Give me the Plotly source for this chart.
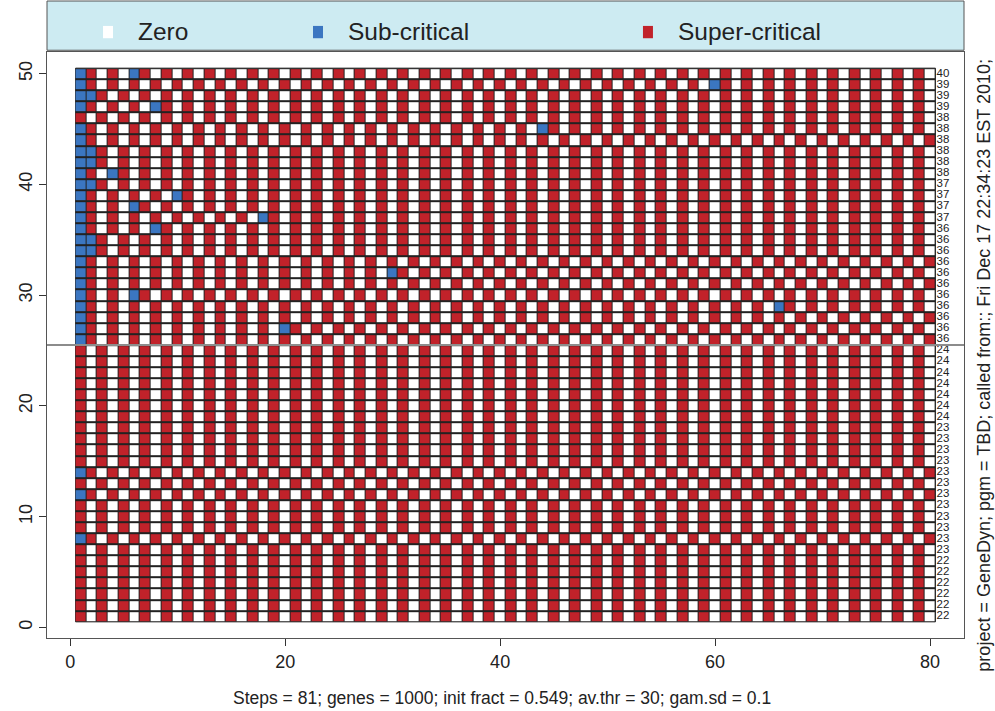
import plotly.graph_objects as go

# ---------------- data ----------------
# one string per gene row, top row (y = 50) first; one character per step 1..80
# W = zero, B = sub-critical, R = super-critical (spaces only group by 10 steps)
STATE_ROWS = [
    "BRWRWBRWRW RWRWRWRWRW RWRWRWRWRW RWRWRWRWRW RWRWRWRWRW RWRWRWRWRW RWRWRWRWRW RWRWRWRWRW",  # 50
    "BRWRWRWRWR WRWRWRWRWR WRWRWRWRWR WRWRWRWRWR WRWRWRWRWR WRWRWRWRWB RWRWRWRWRW RWRWRWRWRW",  # 49
    "BBRWRWRWRW RWRWRWRWRW RWRWRWRWRW RWRWRWRWRW RWRWRWRWRW RWRWRWRWRW RWRWRWRWRW RWRWRWRWRW",  # 48
    "BRWRWRWBRW RWRWRWRWRW RWRWRWRWRW RWRWRWRWRW RWRWRWRWRW RWRWRWRWRW RWRWRWRWRW RWRWRWRWRW",  # 47
    "RWRWRWRWRW RWRWRWRWRW RWRWRWRWRW RWRWRWRWRW RWRWRWRWRW RWRWRWRWRW RWRWRWRWRW RWRWRWRWRW",  # 46
    "BRWRWRWRWR WRWRWRWRWR WRWRWRWRWR WRWRWRWRWR WRWBRWRWRW RWRWRWRWRW RWRWRWRWRW RWRWRWRWRW",  # 45
    "BRWRWRWRWR WRWRWRWRWR WRWRWRWRWR WRWRWRWRWR WRWRWRWRWR WRWRWRWRWR WRWRWRWRWR WRWRWRWRWR",  # 44
    "BBRWRWRWRW RWRWRWRWRW RWRWRWRWRW RWRWRWRWRW RWRWRWRWRW RWRWRWRWRW RWRWRWRWRW RWRWRWRWRW",  # 43
    "BBRWRWRWRW RWRWRWRWRW RWRWRWRWRW RWRWRWRWRW RWRWRWRWRW RWRWRWRWRW RWRWRWRWRW RWRWRWRWRW",  # 42
    "BRWBRWRWRW RWRWRWRWRW RWRWRWRWRW RWRWRWRWRW RWRWRWRWRW RWRWRWRWRW RWRWRWRWRW RWRWRWRWRW",  # 41
    "BBRWRWRWRW RWRWRWRWRW RWRWRWRWRW RWRWRWRWRW RWRWRWRWRW RWRWRWRWRW RWRWRWRWRW RWRWRWRWRW",  # 40
    "BRWRWRWRWB RWRWRWRWRW RWRWRWRWRW RWRWRWRWRW RWRWRWRWRW RWRWRWRWRW RWRWRWRWRW RWRWRWRWRW",  # 39
    "BRWRWBRWRW RWRWRWRWRW RWRWRWRWRW RWRWRWRWRW RWRWRWRWRW RWRWRWRWRW RWRWRWRWRW RWRWRWRWRW",  # 38
    "BRWRWRWRWR WRWRWRWBRW RWRWRWRWRW RWRWRWRWRW RWRWRWRWRW RWRWRWRWRW RWRWRWRWRW RWRWRWRWRW",  # 37
    "BRWRWRWBRW RWRWRWRWRW RWRWRWRWRW RWRWRWRWRW RWRWRWRWRW RWRWRWRWRW RWRWRWRWRW RWRWRWRWRW",  # 36
    "BBRWRWRWRW RWRWRWRWRW RWRWRWRWRW RWRWRWRWRW RWRWRWRWRW RWRWRWRWRW RWRWRWRWRW RWRWRWRWRW",  # 35
    "BBRWRWRWRW RWRWRWRWRW RWRWRWRWRW RWRWRWRWRW RWRWRWRWRW RWRWRWRWRW RWRWRWRWRW RWRWRWRWRW",  # 34
    "BRWRWRWRWR WRWRWRWRWR WRWRWRWRWR WRWRWRWRWR WRWRWRWRWR WRWRWRWRWR WRWRWRWRWR WRWRWRWRWR",  # 33
    "BRWRWRWRWR WRWRWRWRWR WRWRWRWRWB RWRWRWRWRW RWRWRWRWRW RWRWRWRWRW RWRWRWRWRW RWRWRWRWRW",  # 32
    "BRWRWRWRWR WRWRWRWRWR WRWRWRWRWR WRWRWRWRWR WRWRWRWRWR WRWRWRWRWR WRWRWRWRWR WRWRWRWRWR",  # 31
    "BRWRWBRWRW RWRWRWRWRW RWRWRWRWRW RWRWRWRWRW RWRWRWRWRW RWRWRWRWRW RWRWRWRWRW RWRWRWRWRW",  # 30
    "BRWRWRWRWR WRWRWRWRWR WRWRWRWRWR WRWRWRWRWR WRWRWRWRWR WRWRWRWRWR WRWRWBRWRW RWRWRWRWRW",  # 29
    "BRWRWRWRWR WRWRWRWRWR WRWRWRWRWR WRWRWRWRWR WRWRWRWRWR WRWRWRWRWR WRWRWRWRWR WRWRWRWRWR",  # 28
    "BRWRWRWRWR WRWRWRWRWB RWRWRWRWRW RWRWRWRWRW RWRWRWRWRW RWRWRWRWRW RWRWRWRWRW RWRWRWRWRW",  # 27
    "BRWRWRWRWR WRWRWRWRWR WRWRWRWRWR WRWRWRWRWR WRWRWRWRWR WRWRWRWRWR WRWRWRWRWR WRWRWRWRWR",  # 26
    "RWRWRWRWRW RWRWRWRWRW RWRWRWRWRW RWRWRWRWRW RWRWRWRWRW RWRWRWRWRW RWRWRWRWRW RWRWRWRWRW",  # 25
    "RWRWRWRWRW RWRWRWRWRW RWRWRWRWRW RWRWRWRWRW RWRWRWRWRW RWRWRWRWRW RWRWRWRWRW RWRWRWRWRW",  # 24
    "RWRWRWRWRW RWRWRWRWRW RWRWRWRWRW RWRWRWRWRW RWRWRWRWRW RWRWRWRWRW RWRWRWRWRW RWRWRWRWRW",  # 23
    "RWRWRWRWRW RWRWRWRWRW RWRWRWRWRW RWRWRWRWRW RWRWRWRWRW RWRWRWRWRW RWRWRWRWRW RWRWRWRWRW",  # 22
    "RWRWRWRWRW RWRWRWRWRW RWRWRWRWRW RWRWRWRWRW RWRWRWRWRW RWRWRWRWRW RWRWRWRWRW RWRWRWRWRW",  # 21
    "RWRWRWRWRW RWRWRWRWRW RWRWRWRWRW RWRWRWRWRW RWRWRWRWRW RWRWRWRWRW RWRWRWRWRW RWRWRWRWRW",  # 20
    "RWRWRWRWRW RWRWRWRWRW RWRWRWRWRW RWRWRWRWRW RWRWRWRWRW RWRWRWRWRW RWRWRWRWRW RWRWRWRWRW",  # 19
    "RWRWRWRWRW RWRWRWRWRW RWRWRWRWRW RWRWRWRWRW RWRWRWRWRW RWRWRWRWRW RWRWRWRWRW RWRWRWRWRW",  # 18
    "RWRWRWRWRW RWRWRWRWRW RWRWRWRWRW RWRWRWRWRW RWRWRWRWRW RWRWRWRWRW RWRWRWRWRW RWRWRWRWRW",  # 17
    "RWRWRWRWRW RWRWRWRWRW RWRWRWRWRW RWRWRWRWRW RWRWRWRWRW RWRWRWRWRW RWRWRWRWRW RWRWRWRWRW",  # 16
    "RWRWRWRWRW RWRWRWRWRW RWRWRWRWRW RWRWRWRWRW RWRWRWRWRW RWRWRWRWRW RWRWRWRWRW RWRWRWRWRW",  # 15
    "BRWRWRWRWR WRWRWRWRWR WRWRWRWRWR WRWRWRWRWR WRWRWRWRWR WRWRWRWRWR WRWRWRWRWR WRWRWRWRWR",  # 14
    "RWRWRWRWRW RWRWRWRWRW RWRWRWRWRW RWRWRWRWRW RWRWRWRWRW RWRWRWRWRW RWRWRWRWRW RWRWRWRWRW",  # 13
    "BRWRWRWRWR WRWRWRWRWR WRWRWRWRWR WRWRWRWRWR WRWRWRWRWR WRWRWRWRWR WRWRWRWRWR WRWRWRWRWR",  # 12
    "RWRWRWRWRW RWRWRWRWRW RWRWRWRWRW RWRWRWRWRW RWRWRWRWRW RWRWRWRWRW RWRWRWRWRW RWRWRWRWRW",  # 11
    "RWRWRWRWRW RWRWRWRWRW RWRWRWRWRW RWRWRWRWRW RWRWRWRWRW RWRWRWRWRW RWRWRWRWRW RWRWRWRWRW",  # 10
    "RWRWRWRWRW RWRWRWRWRW RWRWRWRWRW RWRWRWRWRW RWRWRWRWRW RWRWRWRWRW RWRWRWRWRW RWRWRWRWRW",  # 9
    "BRWRWRWRWR WRWRWRWRWR WRWRWRWRWR WRWRWRWRWR WRWRWRWRWR WRWRWRWRWR WRWRWRWRWR WRWRWRWRWR",  # 8
    "RWRWRWRWRW RWRWRWRWRW RWRWRWRWRW RWRWRWRWRW RWRWRWRWRW RWRWRWRWRW RWRWRWRWRW RWRWRWRWRW",  # 7
    "RWRWRWRWRW RWRWRWRWRW RWRWRWRWRW RWRWRWRWRW RWRWRWRWRW RWRWRWRWRW RWRWRWRWRW RWRWRWRWRW",  # 6
    "RWRWRWRWRW RWRWRWRWRW RWRWRWRWRW RWRWRWRWRW RWRWRWRWRW RWRWRWRWRW RWRWRWRWRW RWRWRWRWRW",  # 5
    "RWRWRWRWRW RWRWRWRWRW RWRWRWRWRW RWRWRWRWRW RWRWRWRWRW RWRWRWRWRW RWRWRWRWRW RWRWRWRWRW",  # 4
    "RWRWRWRWRW RWRWRWRWRW RWRWRWRWRW RWRWRWRWRW RWRWRWRWRW RWRWRWRWRW RWRWRWRWRW RWRWRWRWRW",  # 3
    "RWRWRWRWRW RWRWRWRWRW RWRWRWRWRW RWRWRWRWRW RWRWRWRWRW RWRWRWRWRW RWRWRWRWRW RWRWRWRWRW",  # 2
    "RWRWRWRWRW RWRWRWRWRW RWRWRWRWRW RWRWRWRWRW RWRWRWRWRW RWRWRWRWRW RWRWRWRWRW RWRWRWRWRW",  # 1
]

# label printed at the right end of each row, top row first
ROW_LABELS = [40, 39, 39, 39, 38, 38, 38, 38, 38, 38, 37, 37, 37, 37,
              36, 36, 36, 36, 36, 36, 36, 36, 36, 36, 36,
              24, 24, 24, 24, 24, 24, 24,
              23, 23, 23, 23, 23, 23, 23, 23, 23, 23, 23, 23,
              22, 22, 22, 22, 22, 22]

STATE_NAMES = ["Zero", "Sub-critical", "Super-critical"]
STATE_COLORS = ["#ffffff", "#3b76c1", "#c1222a"]
STATE_CODE = {"W": 0, "B": 1, "R": 2}

X_TICKS = [0, 20, 40, 60, 80]
Y_TICKS = [0, 10, 20, 30, 40, 50]

BOTTOM_NOTE = "Steps = 81; genes = 1000; init fract = 0.549; av.thr = 30; gam.sd = 0.1"
SIDE_NOTE = "project = GeneDyn; pgm = TBD; called from:; Fri Dec 17 22:34:23 EST 2010;"

# ---------------- build ----------------
rows = [s.replace(" ", "") for s in STATE_ROWS]
assert all(len(r) == 80 for r in rows), [len(r) for r in rows]
n_rows = len(rows)
n_steps = len(rows[0])
steps = list(range(1, n_steps + 1))
row_y = list(range(n_rows, 0, -1))          # top row first

z = [[STATE_CODE[c] for c in rows[i]] for i in range(n_rows)]

FONT = "Liberation Sans, Arial, Helvetica, sans-serif"

colorscale = [[0.0, STATE_COLORS[0]], [0.3333, STATE_COLORS[0]],
              [0.3333, STATE_COLORS[1]], [0.6667, STATE_COLORS[1]],
              [0.6667, STATE_COLORS[2]], [1.0, STATE_COLORS[2]]]

fig = go.Figure()
fig.add_trace(go.Heatmap(
    x=steps, y=row_y, z=z, zmin=0, zmax=2,
    colorscale=colorscale, showscale=False,
    xgap=1, ygap=2, hoverinfo="skip",
))
fig.add_trace(go.Scatter(
    x=[n_steps + 0.6] * n_rows, y=row_y,
    text=[str(v) for v in ROW_LABELS],
    mode="text", textposition="middle right",
    textfont=dict(family=FONT, size=11.5, color="#222222"),
    showlegend=False, hoverinfo="skip", cliponaxis=True,
))

shapes = [
    # dark cell borders behind the grid
    dict(type="rect", xref="x", yref="y", x0=0.5, x1=n_steps + 0.5,
         y0=0.5, y1=n_rows + 0.5, fillcolor="#222222",
         line=dict(color="#222222", width=1), layer="below"),
    # divider between the two panels
    dict(type="line", xref="paper", yref="y", x0=0, x1=1,
         y0=n_rows / 2 + 0.5, y1=n_rows / 2 + 0.5,
         line=dict(color="#8c8c8c", width=2)),
    # legend box
    dict(type="rect", xref="paper", yref="paper", x0=0.0, x1=1.0,
         y0=1.003, y1=1.087, fillcolor="#cdebf2",
         line=dict(color="#555555", width=1)),
]

annotations = []
legend_sq_x = [0.0611, 0.2901, 0.6499]
legend_tx_x = [0.0970, 0.3262, 0.6860]
for i, name in enumerate(STATE_NAMES):
    shapes.append(dict(type="rect", xref="paper", yref="paper",
                       x0=legend_sq_x[i], x1=legend_sq_x[i] + 0.0109,
                       y0=1.0235, y1=1.0445, fillcolor=STATE_COLORS[i],
                       line=dict(width=0)))
    annotations.append(dict(xref="paper", yref="paper", x=legend_tx_x[i], y=1.0345,
                            text=name, showarrow=False, xanchor="left", yanchor="middle",
                            font=dict(family=FONT, size=24.5, color="#222222")))

annotations.append(dict(xref="paper", yref="paper", x=0.4965, y=-0.1024,
                        text=BOTTOM_NOTE, showarrow=False, xanchor="center",
                        yanchor="middle", font=dict(family=FONT, size=17.5, color="#222222")))
annotations.append(dict(xref="paper", yref="paper", x=1.0215, y=0.466,
                        text=SIDE_NOTE, showarrow=False, textangle=-90,
                        xanchor="center", yanchor="middle",
                        font=dict(family=FONT, size=18, color="#222222")))

axis_common = dict(showgrid=False, zeroline=False, showline=True, mirror=True,
                   linecolor="#555555", linewidth=1, ticks="outside", ticklen=7,
                   tickcolor="#333333", tickfont=dict(family=FONT, size=18, color="#222222"))

fig.update_layout(
    width=995, height=711,
    margin=dict(l=47, r=31, t=52, b=73, pad=0),
    paper_bgcolor="white", plot_bgcolor="white",
    showlegend=False,
    shapes=shapes, annotations=annotations,
    xaxis=dict(range=[-2.16, 83.16], tickvals=X_TICKS, **axis_common),
    yaxis=dict(range=[-0.96, 51.96], tickvals=Y_TICKS, tickangle=-90, **axis_common),
    font=dict(family=FONT),
)

fig.write_html("out.html", config={"displayModeBar": False},
               post_script="document.body.style.margin='0';document.body.style.overflow='hidden';")
